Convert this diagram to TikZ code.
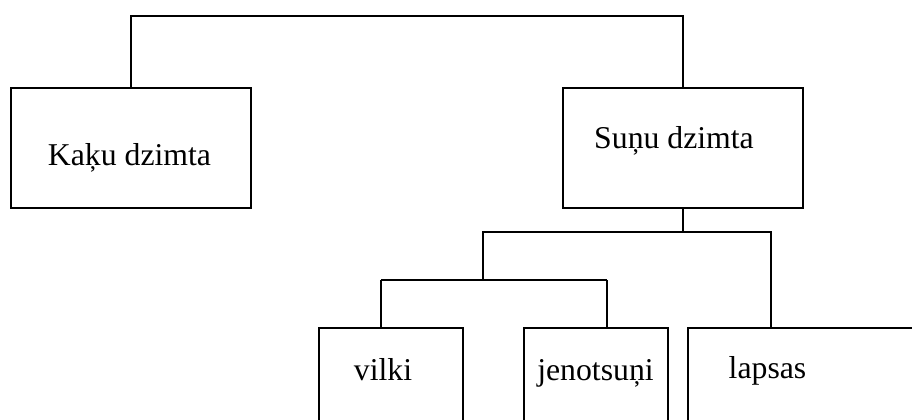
\documentclass[tikz,border=0pt]{standalone}
\usepackage{fontspec}
\setmainfont{Liberation Serif}
\begin{document}
\begin{tikzpicture}[x=0.75pt, y=-0.75pt, line width=1.5pt,
  box/.style={draw, rectangle, inner sep=0pt},
  familybox/.style={box, minimum width=180pt, minimum height=90pt},
  genusbox/.style={box, minimum width=108pt, minimum height=90pt},
  nametext/.style={anchor=base, inner sep=0pt, font=\fontsize{23.8}{28}\selectfont},
]
  \useasboundingbox (0,0) rectangle (912,419);
  \clip (0,0) rectangle (912,419);

  \node[familybox] (kaku) at (131,148) {};
  \node[familybox] (sunu) at (683,148) {};
  \node[genusbox] (vilki) at (391,388) {};
  \node[genusbox] (jenot) at (596,388) {};
  \node[genusbox, minimum width=189pt] (lapsas) at (814,388) {};

  \node[nametext] (kakutext) at (129.5,165) {Kaķu dzimta};
  \node[nametext] (sunutext) at (674,148) {Suņu dzimta};
  \node[nametext] (vilkitext) at (383,380) {vilki};
  \node[nametext] (jenottext) at (595.5,380) {jenotsuņi};
  \node[nametext] (lapsastext) at (767.5,378) {lapsas};

  \coordinate (topjoin) at (407,16);
  \coordinate (canidjoin) at (683,232);
  \coordinate (lowjoin) at (483,280);
  \coordinate (foxdrop) at (771,232);
  \coordinate (wolfdrop) at (381,280);
  \coordinate (raccoondrop) at (607,280);

  \draw (kaku.north) |- (topjoin) -| (sunu.north);
  \draw (sunu.south) -- (canidjoin);
  \draw (canidjoin) -| (lowjoin);
  \draw (canidjoin) -- (foxdrop) -- (foxdrop |- lapsas.north);
  \draw (wolfdrop) -- (raccoondrop);
  \draw (wolfdrop) -- (wolfdrop |- vilki.north);
  \draw (raccoondrop) -- (raccoondrop |- jenot.north);
\end{tikzpicture}
\end{document}
